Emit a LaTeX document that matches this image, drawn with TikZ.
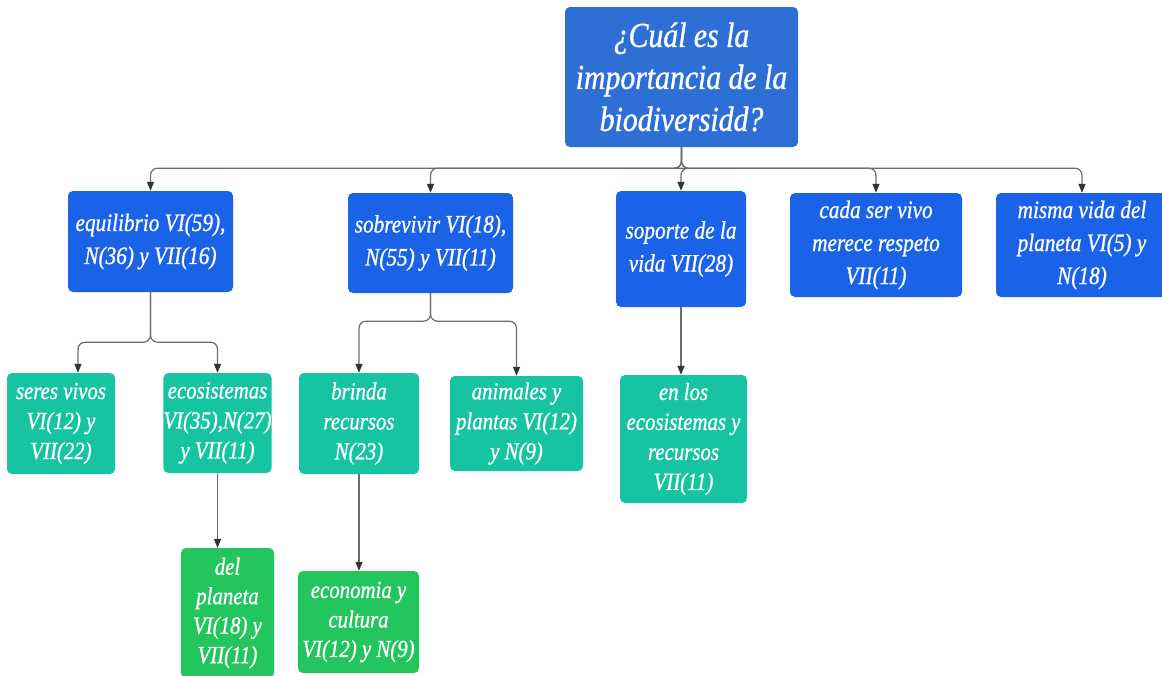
\documentclass[tikz,border=0pt]{standalone}
\usepackage{fontspec}
\newfontfamily\cf[FakeStretch=0.85,FakeBold=0.9]{Liberation Serif}
\usetikzlibrary{arrows.meta,calc}
\definecolor{rootblue}{HTML}{2E6FD6}
\definecolor{lvlblue}{HTML}{1A63E8}
\definecolor{cteal}{HTML}{17C4A1}
\definecolor{cgreen}{HTML}{22C55E}
\definecolor{cline}{HTML}{6E6E6E}
\definecolor{ctip}{HTML}{333333}
\begin{document}
\begin{tikzpicture}[x=1pt,y=-1pt,
  box/.style={rectangle, rounded corners=5pt, inner sep=0pt, text=white, align=center},
  rootbox/.style={box, fill=rootblue, font=\cf\itshape\fontsize{35}{42}\selectfont},
  onebox/.style={box, fill=lvlblue, font=\cf\itshape\fontsize{25}{33}\selectfont},
  twobox/.style={box, fill=cteal, font=\cf\itshape\fontsize{24.5}{30}\selectfont},
  threebox/.style={box, fill=cgreen, font=\cf\itshape\fontsize{24.5}{29.5}\selectfont},
  conn/.style={draw=cline, line width=1.2pt, rounded corners=7pt,
    -{Triangle[length=9pt,width=7pt,color=ctip]}}]
\fill[white] (0,0) rectangle (1162,675);
\useasboundingbox (0,0) rectangle (1162,675);

\node[rootbox, minimum width=233pt, minimum height=140pt] (root) at (681.5,77) {¿Cuál es la\\importancia de la\\biodiversidd?};

\node[onebox, minimum width=165pt, minimum height=101pt] (eq) at (150.5,241.5) {equilibrio VI(59),\\N(36) y VII(16)};
\node[onebox, minimum width=165pt, minimum height=100pt] (sob) at (430.5,243) {sobrevivir VI(18),\\N(55) y VII(11)};
\node[onebox, minimum width=130pt, minimum height=116pt] (sop) at (681,249) {soporte de la\\vida VII(28)};
\node[onebox, minimum width=172pt, minimum height=104pt] (cada) at (876,245) {cada ser vivo\\merece respeto\\VII(11)};
\node[onebox, minimum width=172pt, minimum height=104pt] (misma) at (1082,245) {misma vida del\\planeta VI(5) y\\N(18)};

\node[twobox, minimum width=108pt, minimum height=101pt] (seres) at (61,423.5) {seres vivos\\VI(12) y\\VII(22)};
\node[twobox, minimum width=101pt, minimum height=100pt] (eco) at (217.5,423) {ecosistemas\\VI(35),N(27)\\y VII(11)};
\node[twobox, minimum width=120pt, minimum height=101pt] (brinda) at (359,423.5) {brinda\\recursos\\N(23)};
\node[twobox, minimum width=133pt, minimum height=95pt] (anim) at (516.5,423.5) {animales y\\plantas VI(12)\\y N(9)};
\node[twobox, minimum width=127pt, minimum height=128pt] (enlos) at (683.5,439) {en los\\ecosistemas y\\recursos\\VII(11)};

\node[threebox, minimum width=93pt, minimum height=130pt] (del) at (227.5,613) {del\\planeta\\VI(18) y\\VII(11)};
\node[threebox, minimum width=121pt, minimum height=102pt] (econ) at (358.5,622) {economia y\\cultura\\VI(12) y N(9)};

\coordinate (b0) at ($(root.south)+(0,21)$);
\coordinate (b1) at ($(eq.south)+(0,50)$);
\coordinate (b2) at ($(sob.south)+(0,28)$);

\draw[conn] (root.south) -- (b0) -| (eq.north);
\draw[conn] (root.south) -- (b0) -| (sob.north);
\draw[conn] (root.south) -- (b0) -| (sop.north);
\draw[conn] (root.south) -- (b0) -| (cada.north);
\draw[conn] (root.south) -- (b0) -| (misma.north);

\draw[conn] (eq.south) -- (b1) -| ($(seres.north)+(17,0)$);
\draw[conn] (eq.south) -- (b1) -| (eco.north);

\draw[conn] (sob.south) -- (b2) -| (brinda.north);
\draw[conn] (sob.south) -- (b2) -| (anim.north);

\draw[conn] (sop.south) -- (sop.south |- enlos.north);
\draw[conn] (eco.south) -- (eco.south |- del.north);
\draw[conn] (brinda.south) -- (brinda.south |- econ.north);
\end{tikzpicture}
\end{document}
